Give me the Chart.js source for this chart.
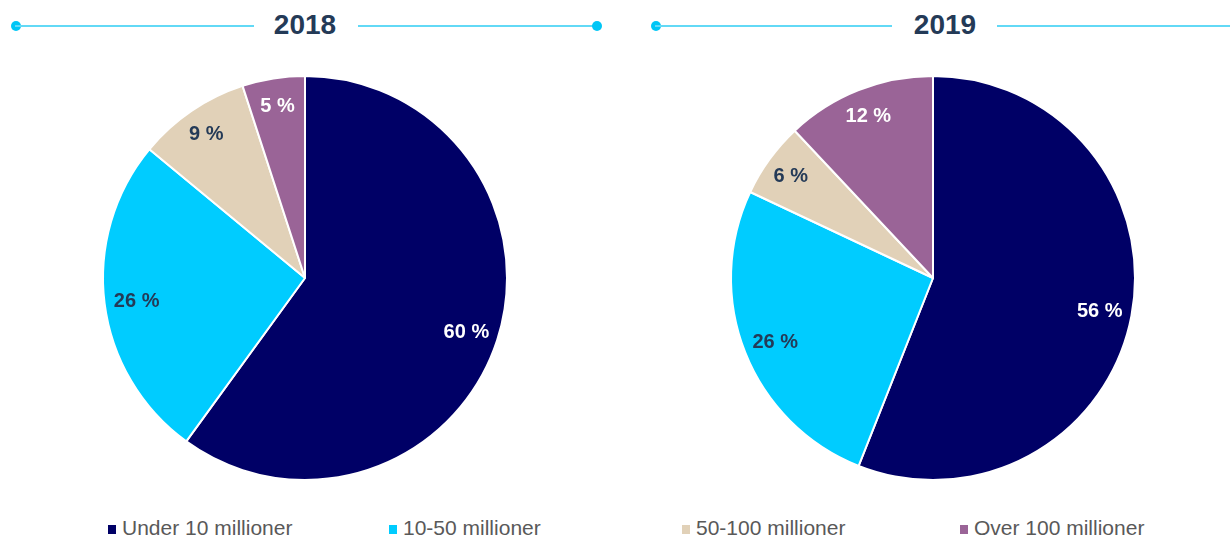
<!DOCTYPE html>
<html>
<head>
<meta charset="utf-8">
<script src="https://cdn.jsdelivr.net/npm/chart.js@4.4.1/dist/chart.umd.min.js"></script>
<style>
  body { margin: 0; background: #fff; font-family: "Liberation Sans", Arial, sans-serif; }
  #page { position: relative; width: 1230px; height: 538px; overflow: hidden; }
  .line { position: absolute; height: 2px; top: 25px; background: #62d9f6; }
  .dot { position: absolute; width: 10px; height: 10px; border-radius: 50%; top: 21px; background: #00c6f6; }
  .title { position: absolute; top: 9px; width: 120px; text-align: center; font-weight: bold; font-size: 28px; color: #243a57; }
  .pie { position: absolute; }
  .leg { position: absolute; top: 516px; font-size: 21px; color: #595959; white-space: nowrap; }
  .leg span.sq { display: inline-block; width: 8px; height: 9px; margin-right: 6px; vertical-align: 1px; }
</style>
</head>
<body>
<div id="page">
  <div class="dot" style="left:11px"></div>
  <div class="line" style="left:15px;width:239px"></div>
  <div class="title" style="left:245px">2018</div>
  <div class="line" style="left:358px;width:238px"></div>
  <div class="dot" style="left:592px"></div>

  <div class="dot" style="left:651px"></div>
  <div class="line" style="left:655px;width:237px"></div>
  <div class="title" style="left:885px">2019</div>
  <div class="line" style="left:997px;width:240px"></div>

  <div class="pie" style="left:94px;top:67px"><canvas id="pie2018" width="422" height="422"></canvas></div>
  <div class="pie" style="left:722px;top:67px"><canvas id="pie2019" width="422" height="422"></canvas></div>

  <div id="legend"></div>
</div>
<script>
var categories = ["Under 10 millioner", "10-50 millioner", "50-100 millioner", "Over 100 millioner"];
var values2018 = [60, 26, 9, 5];
var values2019 = [56, 26, 6, 12];
var sliceColors = ["#000066", "#00ccff", "#e1d1b8", "#9a6497"];
var labelColors = ["#ffffff", "#243a57", "#243a57", "#ffffff"];
var legendLeft = [108, 389, 682, 960];

// legend (shared by both pies)
var legend = document.getElementById("legend");
categories.forEach(function (name, i) {
    var item = document.createElement("div");
    item.className = "leg";
    item.style.left = legendLeft[i] + "px";
    item.innerHTML = '<span class="sq" style="background:' + sliceColors[i] + '"></span>' + name;
    legend.appendChild(item);
});

// percent labels inside the slices
var sliceLabels = {
    id: "sliceLabels",
    afterDatasetsDraw: function (chart) {
        var ctx = chart.ctx;
        var meta = chart.getDatasetMeta(0);
        var data = chart.data.datasets[0].data;
        ctx.save();
        ctx.font = "bold 20px 'Liberation Sans', Arial, sans-serif";
        ctx.textAlign = "center";
        ctx.textBaseline = "middle";
        meta.data.forEach(function (arc, i) {
            var p = arc.getProps(["x", "y", "startAngle", "endAngle", "outerRadius"], true);
            var mid = (p.startAngle + p.endAngle) / 2;
            var r = p.outerRadius * (data[i] >= 20 ? 0.84 : 0.87);
            ctx.fillStyle = labelColors[i];
            ctx.fillText(data[i] + " %", p.x + Math.cos(mid) * r, p.y + Math.sin(mid) * r + 2);
        });
        ctx.restore();
    }
};

function makePie(id, values) {
    return new Chart(document.getElementById(id), {
        type: "pie",
        data: {
            labels: categories,
            datasets: [{
                data: values,
                backgroundColor: sliceColors,
                borderColor: "#ffffff",
                borderWidth: 2
            }]
        },
        options: {
            responsive: false,
            animation: false,
            layout: { padding: 8 },
            plugins: {
                legend: { display: false },
                tooltip: { enabled: false }
            }
        },
        plugins: [sliceLabels]
    });
}

makePie("pie2018", values2018);
makePie("pie2019", values2019);
</script>
</body>
</html>
